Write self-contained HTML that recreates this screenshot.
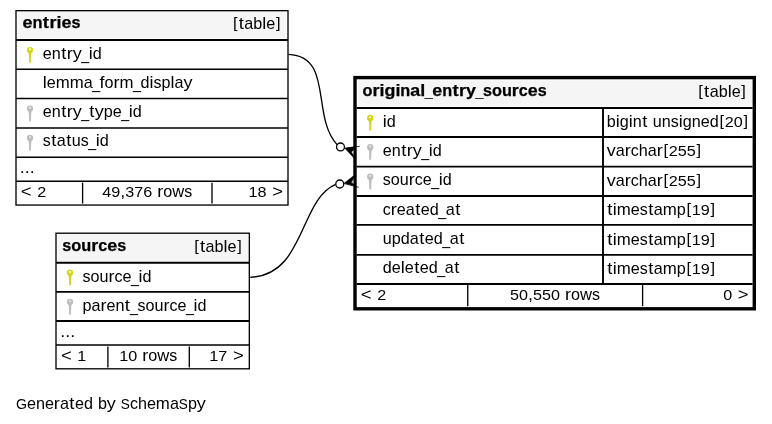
<!DOCTYPE html>
<html><head><meta charset="utf-8"><title>SchemaSpy diagram</title>
<style>
html,body{margin:0;padding:0;background:#fff;}
svg{display:block;will-change:transform;}
text{font-family:"Liberation Sans",sans-serif;font-size:16.2px;fill:#000;}
text.c{font-size:15.4px;}
g.bd text{font-weight:bold;stroke:#000;stroke-width:0.25px;}
text.b{font-size:14.4px;}
</style></head><body>
<svg width="772" height="424" viewBox="0 0 772 424">
<rect width="772" height="424" fill="#fff"/>
<rect x="18.10" y="11.40" width="267.60" height="26.50" fill="#f5f5f5"/>
<rect x="16.00" y="10.67" width="272.00" height="194.38" stroke="#000" stroke-width="1.33" fill="none"/>
<path d="M16.00 40.00L288.00 40.00" stroke="#000" stroke-width="2.0" fill="none"/>
<path d="M16.00 69.30L288.00 69.30" stroke="#000" stroke-width="1.5" fill="none"/>
<path d="M16.00 98.50L288.00 98.50" stroke="#000" stroke-width="1.5" fill="none"/>
<path d="M16.00 127.90L288.00 127.90" stroke="#000" stroke-width="1.5" fill="none"/>
<path d="M16.00 157.20L288.00 157.20" stroke="#000" stroke-width="1.5" fill="none"/>
<path d="M16.00 181.15L288.00 181.15" stroke="#000" stroke-width="1.5" fill="none"/>
<path d="M82.60 182.65L82.60 203.55" stroke="#000" stroke-width="1.33" fill="none"/>
<path d="M212.00 182.65L212.00 203.55" stroke="#000" stroke-width="1.33" fill="none"/>
<g fill="#d3d71a"><circle cx="30.00" cy="50.05" r="3.15"/><path d="M28.30 52.05L31.70 52.05L31.20 55.05L31.00 62.65L29.10 62.65L28.90 55.05Z"/></g><rect x="29.15" y="48.45" width="1.7" height="1.7" rx="0.3" fill="#fff"/><g fill="#fff" fill-opacity="0.55"><rect x="30.55" y="57.25" width="0.6" height="0.6"/><rect x="30.55" y="58.95" width="0.6" height="0.6"/><rect x="30.55" y="60.65" width="0.6" height="0.6"/></g>
<g fill="#bdbdbd"><circle cx="30.00" cy="108.60" r="3.15"/><path d="M28.30 110.60L31.70 110.60L31.20 113.60L31.00 121.20L29.10 121.20L28.90 113.60Z"/></g><rect x="29.15" y="107.00" width="1.7" height="1.7" rx="0.3" fill="#eee"/><g fill="#fff" fill-opacity="0.55"><rect x="30.55" y="115.80" width="0.6" height="0.6"/><rect x="30.55" y="117.50" width="0.6" height="0.6"/><rect x="30.55" y="119.20" width="0.6" height="0.6"/></g>
<g fill="#bdbdbd"><circle cx="30.00" cy="137.95" r="3.15"/><path d="M28.30 139.95L31.70 139.95L31.20 142.95L31.00 150.55L29.10 150.55L28.90 142.95Z"/></g><rect x="29.15" y="136.35" width="1.7" height="1.7" rx="0.3" fill="#eee"/><g fill="#fff" fill-opacity="0.55"><rect x="30.55" y="145.15" width="0.6" height="0.6"/><rect x="30.55" y="146.85" width="0.6" height="0.6"/><rect x="30.55" y="148.55" width="0.6" height="0.6"/></g>
<rect x="58.10" y="233.90" width="189.90" height="27.00" fill="#f5f5f5"/>
<rect x="56.00" y="233.20" width="193.33" height="135.60" stroke="#000" stroke-width="1.33" fill="none"/>
<path d="M56.00 262.80L249.33 262.80" stroke="#000" stroke-width="1.9" fill="none"/>
<path d="M56.00 291.85L249.33 291.85" stroke="#000" stroke-width="1.9" fill="none"/>
<path d="M56.00 321.00L249.33 321.00" stroke="#000" stroke-width="1.85" fill="none"/>
<path d="M56.00 345.00L249.33 345.00" stroke="#000" stroke-width="1.6" fill="none"/>
<path d="M107.90 346.50L107.90 367.60" stroke="#000" stroke-width="1.33" fill="none"/>
<path d="M189.30 346.50L189.30 367.60" stroke="#000" stroke-width="1.33" fill="none"/>
<g fill="#d3d71a"><circle cx="70.00" cy="272.73" r="3.15"/><path d="M68.30 274.73L71.70 274.73L71.20 277.73L71.00 285.33L69.10 285.33L68.90 277.73Z"/></g><rect x="69.15" y="271.12" width="1.7" height="1.7" rx="0.3" fill="#fff"/><g fill="#fff" fill-opacity="0.55"><rect x="70.55" y="279.93" width="0.6" height="0.6"/><rect x="70.55" y="281.62" width="0.6" height="0.6"/><rect x="70.55" y="283.33" width="0.6" height="0.6"/></g>
<g fill="#bdbdbd"><circle cx="70.00" cy="301.82" r="3.15"/><path d="M68.30 303.82L71.70 303.82L71.20 306.82L71.00 314.43L69.10 314.43L68.90 306.82Z"/></g><rect x="69.15" y="300.22" width="1.7" height="1.7" rx="0.3" fill="#eee"/><g fill="#fff" fill-opacity="0.55"><rect x="70.55" y="309.02" width="0.6" height="0.6"/><rect x="70.55" y="310.72" width="0.6" height="0.6"/><rect x="70.55" y="312.43" width="0.6" height="0.6"/></g>
<rect x="357.90" y="80.50" width="394.60" height="25.50" fill="#f5f5f5"/>
<path d="M356.60 108.00L752.60 108.00" stroke="#000" stroke-width="2.1" fill="none"/>
<path d="M356.60 137.05L752.60 137.05" stroke="#000" stroke-width="1.9" fill="none"/>
<path d="M356.60 166.60L752.60 166.60" stroke="#000" stroke-width="1.7" fill="none"/>
<path d="M356.60 195.90L752.60 195.90" stroke="#000" stroke-width="2.05" fill="none"/>
<path d="M356.60 224.90L752.60 224.90" stroke="#000" stroke-width="1.85" fill="none"/>
<path d="M356.60 254.80L752.60 254.80" stroke="#000" stroke-width="1.85" fill="none"/>
<path d="M356.60 283.90L752.60 283.90" stroke="#000" stroke-width="2.05" fill="none"/>
<path d="M603.00 108.00L603.00 283.90" stroke="#000" stroke-width="1.9" fill="none"/>
<path d="M467.75 285.10L467.75 306.20" stroke="#000" stroke-width="1.33" fill="none"/>
<path d="M642.60 285.10L642.60 306.20" stroke="#000" stroke-width="1.33" fill="none"/>
<rect x="355.00" y="77.60" width="399.30" height="231.20" stroke="#000" stroke-width="3.4" fill="none"/>
<g fill="#d3d71a"><circle cx="370.20" cy="117.93" r="3.15"/><path d="M368.50 119.93L371.90 119.93L371.40 122.93L371.20 130.53L369.30 130.53L369.10 122.93Z"/></g><rect x="369.35" y="116.33" width="1.7" height="1.7" rx="0.3" fill="#fff"/><g fill="#fff" fill-opacity="0.55"><rect x="370.75" y="125.13" width="0.6" height="0.6"/><rect x="370.75" y="126.83" width="0.6" height="0.6"/><rect x="370.75" y="128.53" width="0.6" height="0.6"/></g>
<g fill="#bdbdbd"><circle cx="370.20" cy="147.22" r="3.15"/><path d="M368.50 149.22L371.90 149.22L371.40 152.22L371.20 159.82L369.30 159.82L369.10 152.22Z"/></g><rect x="369.35" y="145.62" width="1.7" height="1.7" rx="0.3" fill="#eee"/><g fill="#fff" fill-opacity="0.55"><rect x="370.75" y="154.42" width="0.6" height="0.6"/><rect x="370.75" y="156.12" width="0.6" height="0.6"/><rect x="370.75" y="157.82" width="0.6" height="0.6"/></g>
<g fill="#bdbdbd"><circle cx="370.20" cy="176.65" r="3.15"/><path d="M368.50 178.65L371.90 178.65L371.40 181.65L371.20 189.25L369.30 189.25L369.10 181.65Z"/></g><rect x="369.35" y="175.05" width="1.7" height="1.7" rx="0.3" fill="#eee"/><g fill="#fff" fill-opacity="0.55"><rect x="370.75" y="183.85" width="0.6" height="0.6"/><rect x="370.75" y="185.55" width="0.6" height="0.6"/><rect x="370.75" y="187.25" width="0.6" height="0.6"/></g>
<path d="M288.6 54.3C333.76 56.35 310.76 116.35 337.25 144.9" stroke="#000" stroke-width="1.33" fill="none"/>
<path d="M250.2 277.3C305.27 275.28 299.12 199.9 335.6 184.4" stroke="#000" stroke-width="1.33" fill="none"/>
<circle cx="340.5" cy="146.95" r="3.97" fill="#fff" stroke="#000" stroke-width="1.33"/>
<circle cx="339.76" cy="184.0" r="4.0" fill="#fff" stroke="#000" stroke-width="1.33"/>
<path d="M344.9 148.3L353.6 147.0L353.6 157.7Z" fill="#000" stroke="#000" stroke-width="0.5" stroke-linejoin="round"/>
<path d="M351.5 151.9L353.5 150.3L353.5 155.0Z" fill="#ddd"/>
<path d="M345.5 148.1L359.8 146.3" stroke="#000" stroke-width="0.8" fill="none"/>
<path d="M344.1 183.2L353.8 175.6L353.8 185.6Z" fill="#000" stroke="#000" stroke-width="0.5" stroke-linejoin="round"/>
<path d="M351.2 182.2L353.6 179.0L353.6 184.0Z" fill="#bbb"/>
<path d="M344.6 183.6L358.7 187.3" stroke="#000" stroke-width="0.8" fill="none"/>
<g class="bd"><text x="22.47" y="27.90" textLength="10.00" lengthAdjust="spacingAndGlyphs">e</text><text x="32.47" y="27.90" textLength="10.00" lengthAdjust="spacingAndGlyphs">n</text><text x="42.89" y="27.90" textLength="6.15" lengthAdjust="spacingAndGlyphs">t</text><text x="49.47" y="27.90" textLength="7.00" lengthAdjust="spacingAndGlyphs">r</text><text x="56.47" y="27.90" textLength="5.00" lengthAdjust="spacingAndGlyphs">i</text><text x="61.47" y="27.90" textLength="10.00" lengthAdjust="spacingAndGlyphs">e</text><text x="71.47" y="27.90" textLength="9.00" lengthAdjust="spacingAndGlyphs">s</text></g>
<g><text class="b" x="233.08" y="28.15" textLength="4.56" lengthAdjust="spacingAndGlyphs">[</text><text x="238.79" y="29.00" textLength="5.13" lengthAdjust="spacingAndGlyphs">t</text><text x="244.36" y="29.00" textLength="9.00" lengthAdjust="spacingAndGlyphs">a</text><text x="253.36" y="29.00" textLength="9.00" lengthAdjust="spacingAndGlyphs">b</text><text x="262.36" y="29.00" textLength="4.00" lengthAdjust="spacingAndGlyphs">l</text><text x="266.36" y="29.00" textLength="9.00" lengthAdjust="spacingAndGlyphs">e</text><text class="b" x="276.08" y="28.15" textLength="4.56" lengthAdjust="spacingAndGlyphs">]</text></g>
<g><text x="42.74" y="58.55" textLength="9.00" lengthAdjust="spacingAndGlyphs">e</text><text x="51.74" y="58.55" textLength="9.00" lengthAdjust="spacingAndGlyphs">n</text><text x="61.17" y="58.55" textLength="5.13" lengthAdjust="spacingAndGlyphs">t</text><text x="66.74" y="58.55" textLength="6.00" lengthAdjust="spacingAndGlyphs">r</text><text x="72.74" y="58.55" textLength="9.00" lengthAdjust="spacingAndGlyphs">y</text><text x="81.28" y="59.55" textLength="7.93" lengthAdjust="spacingAndGlyphs">_</text><text x="88.74" y="58.55" textLength="4.00" lengthAdjust="spacingAndGlyphs">i</text><text x="92.74" y="58.55" textLength="9.00" lengthAdjust="spacingAndGlyphs">d</text></g>
<g><text x="42.74" y="87.80" textLength="3.99" lengthAdjust="spacingAndGlyphs">l</text><text x="46.73" y="87.80" textLength="8.98" lengthAdjust="spacingAndGlyphs">e</text><text x="55.71" y="87.80" textLength="13.97" lengthAdjust="spacingAndGlyphs">m</text><text x="69.69" y="87.80" textLength="13.97" lengthAdjust="spacingAndGlyphs">m</text><text x="83.66" y="87.80" textLength="8.98" lengthAdjust="spacingAndGlyphs">a</text><text x="92.17" y="88.80" textLength="7.93" lengthAdjust="spacingAndGlyphs">_</text><text x="99.62" y="87.80" textLength="4.99" lengthAdjust="spacingAndGlyphs">f</text><text x="104.61" y="87.80" textLength="8.98" lengthAdjust="spacingAndGlyphs">o</text><text x="113.60" y="87.80" textLength="5.99" lengthAdjust="spacingAndGlyphs">r</text><text x="119.58" y="87.80" textLength="13.97" lengthAdjust="spacingAndGlyphs">m</text><text x="133.08" y="88.80" textLength="7.93" lengthAdjust="spacingAndGlyphs">_</text><text x="140.54" y="87.80" textLength="8.98" lengthAdjust="spacingAndGlyphs">d</text><text x="149.52" y="87.80" textLength="3.99" lengthAdjust="spacingAndGlyphs">i</text><text x="153.52" y="87.80" textLength="7.98" lengthAdjust="spacingAndGlyphs">s</text><text x="161.50" y="87.80" textLength="8.98" lengthAdjust="spacingAndGlyphs">p</text><text x="170.48" y="87.80" textLength="3.99" lengthAdjust="spacingAndGlyphs">l</text><text x="174.47" y="87.80" textLength="8.98" lengthAdjust="spacingAndGlyphs">a</text><text x="183.46" y="87.80" textLength="8.98" lengthAdjust="spacingAndGlyphs">y</text></g>
<g><text x="42.74" y="117.10" textLength="9.00" lengthAdjust="spacingAndGlyphs">e</text><text x="51.74" y="117.10" textLength="9.00" lengthAdjust="spacingAndGlyphs">n</text><text x="61.17" y="117.10" textLength="5.13" lengthAdjust="spacingAndGlyphs">t</text><text x="66.74" y="117.10" textLength="6.00" lengthAdjust="spacingAndGlyphs">r</text><text x="72.74" y="117.10" textLength="9.00" lengthAdjust="spacingAndGlyphs">y</text><text x="81.28" y="118.10" textLength="7.93" lengthAdjust="spacingAndGlyphs">_</text><text x="89.17" y="117.10" textLength="5.13" lengthAdjust="spacingAndGlyphs">t</text><text x="94.74" y="117.10" textLength="9.00" lengthAdjust="spacingAndGlyphs">y</text><text x="103.74" y="117.10" textLength="9.00" lengthAdjust="spacingAndGlyphs">p</text><text x="112.74" y="117.10" textLength="9.00" lengthAdjust="spacingAndGlyphs">e</text><text x="121.28" y="118.10" textLength="7.93" lengthAdjust="spacingAndGlyphs">_</text><text x="128.74" y="117.10" textLength="4.00" lengthAdjust="spacingAndGlyphs">i</text><text x="132.74" y="117.10" textLength="9.00" lengthAdjust="spacingAndGlyphs">d</text></g>
<g><text x="42.74" y="146.45" textLength="8.00" lengthAdjust="spacingAndGlyphs">s</text><text x="51.17" y="146.45" textLength="5.13" lengthAdjust="spacingAndGlyphs">t</text><text x="56.74" y="146.45" textLength="9.00" lengthAdjust="spacingAndGlyphs">a</text><text x="66.17" y="146.45" textLength="5.13" lengthAdjust="spacingAndGlyphs">t</text><text x="71.74" y="146.45" textLength="9.00" lengthAdjust="spacingAndGlyphs">u</text><text x="80.74" y="146.45" textLength="8.00" lengthAdjust="spacingAndGlyphs">s</text><text x="88.28" y="147.45" textLength="7.93" lengthAdjust="spacingAndGlyphs">_</text><text x="95.74" y="146.45" textLength="4.00" lengthAdjust="spacingAndGlyphs">i</text><text x="99.74" y="146.45" textLength="9.00" lengthAdjust="spacingAndGlyphs">d</text></g>
<g><text x="19.80" y="172.60" textLength="5.00" lengthAdjust="spacingAndGlyphs">.</text><text x="24.80" y="172.60" textLength="5.00" lengthAdjust="spacingAndGlyphs">.</text><text x="29.80" y="172.60" textLength="5.00" lengthAdjust="spacingAndGlyphs">.</text></g>
<g><text x="20.86" y="197.20" textLength="10.79" lengthAdjust="spacingAndGlyphs">&lt;</text><text class="c" x="37.25" y="197.20" textLength="9.00" lengthAdjust="spacingAndGlyphs">2</text></g>
<g><text class="c" x="102.30" y="197.20" textLength="9.00" lengthAdjust="spacingAndGlyphs">4</text><text class="c" x="111.30" y="197.20" textLength="9.00" lengthAdjust="spacingAndGlyphs">9</text><text x="120.30" y="197.20" textLength="5.00" lengthAdjust="spacingAndGlyphs">,</text><text class="c" x="125.30" y="197.20" textLength="9.00" lengthAdjust="spacingAndGlyphs">3</text><text class="c" x="134.30" y="197.20" textLength="9.00" lengthAdjust="spacingAndGlyphs">7</text><text class="c" x="143.30" y="197.20" textLength="9.00" lengthAdjust="spacingAndGlyphs">6</text><text x="157.30" y="197.20" textLength="6.00" lengthAdjust="spacingAndGlyphs">r</text><text x="163.30" y="197.20" textLength="9.00" lengthAdjust="spacingAndGlyphs">o</text><text x="172.30" y="197.20" textLength="12.00" lengthAdjust="spacingAndGlyphs">w</text><text x="184.30" y="197.20" textLength="8.00" lengthAdjust="spacingAndGlyphs">s</text></g>
<g><text class="c" x="248.55" y="197.20" textLength="9.00" lengthAdjust="spacingAndGlyphs">1</text><text class="c" x="257.55" y="197.20" textLength="9.00" lengthAdjust="spacingAndGlyphs">8</text><text x="272.16" y="197.20" textLength="10.79" lengthAdjust="spacingAndGlyphs">&gt;</text></g>
<g class="bd"><text x="62.24" y="250.80" textLength="9.00" lengthAdjust="spacingAndGlyphs">s</text><text x="71.24" y="250.80" textLength="10.00" lengthAdjust="spacingAndGlyphs">o</text><text x="81.24" y="250.80" textLength="10.00" lengthAdjust="spacingAndGlyphs">u</text><text x="91.24" y="250.80" textLength="7.00" lengthAdjust="spacingAndGlyphs">r</text><text x="98.24" y="250.80" textLength="9.00" lengthAdjust="spacingAndGlyphs">c</text><text x="107.24" y="250.80" textLength="10.00" lengthAdjust="spacingAndGlyphs">e</text><text x="117.24" y="250.80" textLength="9.00" lengthAdjust="spacingAndGlyphs">s</text></g>
<g><text class="b" x="194.23" y="250.85" textLength="4.56" lengthAdjust="spacingAndGlyphs">[</text><text x="199.94" y="251.70" textLength="5.13" lengthAdjust="spacingAndGlyphs">t</text><text x="205.51" y="251.70" textLength="9.00" lengthAdjust="spacingAndGlyphs">a</text><text x="214.51" y="251.70" textLength="9.00" lengthAdjust="spacingAndGlyphs">b</text><text x="223.51" y="251.70" textLength="4.00" lengthAdjust="spacingAndGlyphs">l</text><text x="227.51" y="251.70" textLength="9.00" lengthAdjust="spacingAndGlyphs">e</text><text class="b" x="237.23" y="250.85" textLength="4.56" lengthAdjust="spacingAndGlyphs">]</text></g>
<g><text x="82.40" y="281.60" textLength="8.00" lengthAdjust="spacingAndGlyphs">s</text><text x="90.40" y="281.60" textLength="9.00" lengthAdjust="spacingAndGlyphs">o</text><text x="99.40" y="281.60" textLength="9.00" lengthAdjust="spacingAndGlyphs">u</text><text x="108.40" y="281.60" textLength="6.00" lengthAdjust="spacingAndGlyphs">r</text><text x="114.40" y="281.60" textLength="8.00" lengthAdjust="spacingAndGlyphs">c</text><text x="122.40" y="281.60" textLength="9.00" lengthAdjust="spacingAndGlyphs">e</text><text x="130.94" y="282.60" textLength="7.93" lengthAdjust="spacingAndGlyphs">_</text><text x="138.40" y="281.60" textLength="4.00" lengthAdjust="spacingAndGlyphs">i</text><text x="142.40" y="281.60" textLength="9.00" lengthAdjust="spacingAndGlyphs">d</text></g>
<g><text x="82.40" y="310.97" textLength="9.00" lengthAdjust="spacingAndGlyphs">p</text><text x="91.40" y="310.97" textLength="9.00" lengthAdjust="spacingAndGlyphs">a</text><text x="100.40" y="310.97" textLength="6.00" lengthAdjust="spacingAndGlyphs">r</text><text x="106.40" y="310.97" textLength="9.00" lengthAdjust="spacingAndGlyphs">e</text><text x="115.40" y="310.97" textLength="9.00" lengthAdjust="spacingAndGlyphs">n</text><text x="124.83" y="310.97" textLength="5.13" lengthAdjust="spacingAndGlyphs">t</text><text x="129.94" y="311.97" textLength="7.93" lengthAdjust="spacingAndGlyphs">_</text><text x="137.40" y="310.97" textLength="8.00" lengthAdjust="spacingAndGlyphs">s</text><text x="145.40" y="310.97" textLength="9.00" lengthAdjust="spacingAndGlyphs">o</text><text x="154.40" y="310.97" textLength="9.00" lengthAdjust="spacingAndGlyphs">u</text><text x="163.40" y="310.97" textLength="6.00" lengthAdjust="spacingAndGlyphs">r</text><text x="169.40" y="310.97" textLength="8.00" lengthAdjust="spacingAndGlyphs">c</text><text x="177.40" y="310.97" textLength="9.00" lengthAdjust="spacingAndGlyphs">e</text><text x="185.94" y="311.97" textLength="7.93" lengthAdjust="spacingAndGlyphs">_</text><text x="193.40" y="310.97" textLength="4.00" lengthAdjust="spacingAndGlyphs">i</text><text x="197.40" y="310.97" textLength="9.00" lengthAdjust="spacingAndGlyphs">d</text></g>
<g><text x="60.30" y="337.00" textLength="5.00" lengthAdjust="spacingAndGlyphs">.</text><text x="65.30" y="337.00" textLength="5.00" lengthAdjust="spacingAndGlyphs">.</text><text x="70.30" y="337.00" textLength="5.00" lengthAdjust="spacingAndGlyphs">.</text></g>
<g><text x="60.91" y="361.40" textLength="10.79" lengthAdjust="spacingAndGlyphs">&lt;</text><text class="c" x="77.30" y="361.40" textLength="9.00" lengthAdjust="spacingAndGlyphs">1</text></g>
<g><text class="c" x="119.15" y="361.40" textLength="9.00" lengthAdjust="spacingAndGlyphs">1</text><text class="c" x="128.15" y="361.40" textLength="9.00" lengthAdjust="spacingAndGlyphs">0</text><text x="142.15" y="361.40" textLength="6.00" lengthAdjust="spacingAndGlyphs">r</text><text x="148.15" y="361.40" textLength="9.00" lengthAdjust="spacingAndGlyphs">o</text><text x="157.15" y="361.40" textLength="12.00" lengthAdjust="spacingAndGlyphs">w</text><text x="169.15" y="361.40" textLength="8.00" lengthAdjust="spacingAndGlyphs">s</text></g>
<g><text class="c" x="209.35" y="361.40" textLength="9.00" lengthAdjust="spacingAndGlyphs">1</text><text class="c" x="218.35" y="361.40" textLength="9.00" lengthAdjust="spacingAndGlyphs">7</text><text x="232.96" y="361.40" textLength="10.79" lengthAdjust="spacingAndGlyphs">&gt;</text></g>
<g class="bd"><text x="362.57" y="95.60" textLength="9.95" lengthAdjust="spacingAndGlyphs">o</text><text x="372.52" y="95.60" textLength="6.97" lengthAdjust="spacingAndGlyphs">r</text><text x="379.49" y="95.60" textLength="4.98" lengthAdjust="spacingAndGlyphs">i</text><text x="384.47" y="95.60" textLength="10.95" lengthAdjust="spacingAndGlyphs">g</text><text x="395.41" y="95.60" textLength="4.98" lengthAdjust="spacingAndGlyphs">i</text><text x="400.39" y="95.60" textLength="9.95" lengthAdjust="spacingAndGlyphs">n</text><text x="410.34" y="95.60" textLength="9.95" lengthAdjust="spacingAndGlyphs">a</text><text x="420.30" y="95.60" textLength="4.98" lengthAdjust="spacingAndGlyphs">l</text><text x="424.79" y="96.60" textLength="7.93" lengthAdjust="spacingAndGlyphs">_</text><text x="432.24" y="95.60" textLength="9.95" lengthAdjust="spacingAndGlyphs">e</text><text x="442.19" y="95.60" textLength="9.95" lengthAdjust="spacingAndGlyphs">n</text><text x="452.55" y="95.60" textLength="6.15" lengthAdjust="spacingAndGlyphs">t</text><text x="459.11" y="95.60" textLength="6.97" lengthAdjust="spacingAndGlyphs">r</text><text x="466.08" y="95.60" textLength="9.95" lengthAdjust="spacingAndGlyphs">y</text><text x="475.55" y="96.60" textLength="7.93" lengthAdjust="spacingAndGlyphs">_</text><text x="483.00" y="95.60" textLength="8.96" lengthAdjust="spacingAndGlyphs">s</text><text x="491.95" y="95.60" textLength="9.95" lengthAdjust="spacingAndGlyphs">o</text><text x="501.91" y="95.60" textLength="9.95" lengthAdjust="spacingAndGlyphs">u</text><text x="511.86" y="95.60" textLength="6.97" lengthAdjust="spacingAndGlyphs">r</text><text x="518.83" y="95.60" textLength="8.96" lengthAdjust="spacingAndGlyphs">c</text><text x="527.78" y="95.60" textLength="9.95" lengthAdjust="spacingAndGlyphs">e</text><text x="537.74" y="95.60" textLength="8.96" lengthAdjust="spacingAndGlyphs">s</text></g>
<g><text class="b" x="698.38" y="96.45" textLength="4.56" lengthAdjust="spacingAndGlyphs">[</text><text x="704.09" y="97.30" textLength="5.13" lengthAdjust="spacingAndGlyphs">t</text><text x="709.66" y="97.30" textLength="9.00" lengthAdjust="spacingAndGlyphs">a</text><text x="718.66" y="97.30" textLength="9.00" lengthAdjust="spacingAndGlyphs">b</text><text x="727.66" y="97.30" textLength="4.00" lengthAdjust="spacingAndGlyphs">l</text><text x="731.66" y="97.30" textLength="9.00" lengthAdjust="spacingAndGlyphs">e</text><text class="b" x="741.38" y="96.45" textLength="4.56" lengthAdjust="spacingAndGlyphs">]</text></g>
<g><text x="382.80" y="126.70" textLength="4.00" lengthAdjust="spacingAndGlyphs">i</text><text x="386.80" y="126.70" textLength="9.00" lengthAdjust="spacingAndGlyphs">d</text></g>
<g><text x="606.80" y="127.20" textLength="9.00" lengthAdjust="spacingAndGlyphs">b</text><text x="615.80" y="127.20" textLength="4.00" lengthAdjust="spacingAndGlyphs">i</text><text x="619.80" y="127.20" textLength="9.00" lengthAdjust="spacingAndGlyphs">g</text><text x="628.80" y="127.20" textLength="4.00" lengthAdjust="spacingAndGlyphs">i</text><text x="632.80" y="127.20" textLength="9.00" lengthAdjust="spacingAndGlyphs">n</text><text x="642.23" y="127.20" textLength="5.13" lengthAdjust="spacingAndGlyphs">t</text><text x="652.80" y="127.20" textLength="9.00" lengthAdjust="spacingAndGlyphs">u</text><text x="661.80" y="127.20" textLength="9.00" lengthAdjust="spacingAndGlyphs">n</text><text x="670.80" y="127.20" textLength="8.00" lengthAdjust="spacingAndGlyphs">s</text><text x="678.80" y="127.20" textLength="4.00" lengthAdjust="spacingAndGlyphs">i</text><text x="682.80" y="127.20" textLength="9.00" lengthAdjust="spacingAndGlyphs">g</text><text x="691.80" y="127.20" textLength="9.00" lengthAdjust="spacingAndGlyphs">n</text><text x="700.80" y="127.20" textLength="9.00" lengthAdjust="spacingAndGlyphs">e</text><text x="709.80" y="127.20" textLength="9.00" lengthAdjust="spacingAndGlyphs">d</text><text class="b" x="719.52" y="126.35" textLength="4.56" lengthAdjust="spacingAndGlyphs">[</text><text class="c" x="724.80" y="127.20" textLength="9.00" lengthAdjust="spacingAndGlyphs">2</text><text class="c" x="733.80" y="127.20" textLength="9.00" lengthAdjust="spacingAndGlyphs">0</text><text class="b" x="743.52" y="126.35" textLength="4.56" lengthAdjust="spacingAndGlyphs">]</text></g>
<g><text x="382.80" y="155.75" textLength="9.00" lengthAdjust="spacingAndGlyphs">e</text><text x="391.80" y="155.75" textLength="9.00" lengthAdjust="spacingAndGlyphs">n</text><text x="401.23" y="155.75" textLength="5.13" lengthAdjust="spacingAndGlyphs">t</text><text x="406.80" y="155.75" textLength="6.00" lengthAdjust="spacingAndGlyphs">r</text><text x="412.80" y="155.75" textLength="9.00" lengthAdjust="spacingAndGlyphs">y</text><text x="421.34" y="156.75" textLength="7.93" lengthAdjust="spacingAndGlyphs">_</text><text x="428.80" y="155.75" textLength="4.00" lengthAdjust="spacingAndGlyphs">i</text><text x="432.80" y="155.75" textLength="9.00" lengthAdjust="spacingAndGlyphs">d</text></g>
<g><text x="606.80" y="156.25" textLength="9.00" lengthAdjust="spacingAndGlyphs">v</text><text x="615.80" y="156.25" textLength="9.00" lengthAdjust="spacingAndGlyphs">a</text><text x="624.80" y="156.25" textLength="6.00" lengthAdjust="spacingAndGlyphs">r</text><text x="630.80" y="156.25" textLength="8.00" lengthAdjust="spacingAndGlyphs">c</text><text x="638.80" y="156.25" textLength="9.00" lengthAdjust="spacingAndGlyphs">h</text><text x="647.80" y="156.25" textLength="9.00" lengthAdjust="spacingAndGlyphs">a</text><text x="656.80" y="156.25" textLength="6.00" lengthAdjust="spacingAndGlyphs">r</text><text class="b" x="663.52" y="155.40" textLength="4.56" lengthAdjust="spacingAndGlyphs">[</text><text class="c" x="668.80" y="156.25" textLength="9.00" lengthAdjust="spacingAndGlyphs">2</text><text class="c" x="677.80" y="156.25" textLength="9.00" lengthAdjust="spacingAndGlyphs">5</text><text class="c" x="686.80" y="156.25" textLength="9.00" lengthAdjust="spacingAndGlyphs">5</text><text class="b" x="696.52" y="155.40" textLength="4.56" lengthAdjust="spacingAndGlyphs">]</text></g>
<g><text x="382.80" y="185.15" textLength="8.00" lengthAdjust="spacingAndGlyphs">s</text><text x="390.80" y="185.15" textLength="9.00" lengthAdjust="spacingAndGlyphs">o</text><text x="399.80" y="185.15" textLength="9.00" lengthAdjust="spacingAndGlyphs">u</text><text x="408.80" y="185.15" textLength="6.00" lengthAdjust="spacingAndGlyphs">r</text><text x="414.80" y="185.15" textLength="8.00" lengthAdjust="spacingAndGlyphs">c</text><text x="422.80" y="185.15" textLength="9.00" lengthAdjust="spacingAndGlyphs">e</text><text x="431.34" y="186.15" textLength="7.93" lengthAdjust="spacingAndGlyphs">_</text><text x="438.80" y="185.15" textLength="4.00" lengthAdjust="spacingAndGlyphs">i</text><text x="442.80" y="185.15" textLength="9.00" lengthAdjust="spacingAndGlyphs">d</text></g>
<g><text x="606.80" y="185.65" textLength="9.00" lengthAdjust="spacingAndGlyphs">v</text><text x="615.80" y="185.65" textLength="9.00" lengthAdjust="spacingAndGlyphs">a</text><text x="624.80" y="185.65" textLength="6.00" lengthAdjust="spacingAndGlyphs">r</text><text x="630.80" y="185.65" textLength="8.00" lengthAdjust="spacingAndGlyphs">c</text><text x="638.80" y="185.65" textLength="9.00" lengthAdjust="spacingAndGlyphs">h</text><text x="647.80" y="185.65" textLength="9.00" lengthAdjust="spacingAndGlyphs">a</text><text x="656.80" y="185.65" textLength="6.00" lengthAdjust="spacingAndGlyphs">r</text><text class="b" x="663.52" y="184.80" textLength="4.56" lengthAdjust="spacingAndGlyphs">[</text><text class="c" x="668.80" y="185.65" textLength="9.00" lengthAdjust="spacingAndGlyphs">2</text><text class="c" x="677.80" y="185.65" textLength="9.00" lengthAdjust="spacingAndGlyphs">5</text><text class="c" x="686.80" y="185.65" textLength="9.00" lengthAdjust="spacingAndGlyphs">5</text><text class="b" x="696.52" y="184.80" textLength="4.56" lengthAdjust="spacingAndGlyphs">]</text></g>
<g><text x="382.80" y="214.60" textLength="8.00" lengthAdjust="spacingAndGlyphs">c</text><text x="390.80" y="214.60" textLength="6.00" lengthAdjust="spacingAndGlyphs">r</text><text x="396.80" y="214.60" textLength="9.00" lengthAdjust="spacingAndGlyphs">e</text><text x="405.80" y="214.60" textLength="9.00" lengthAdjust="spacingAndGlyphs">a</text><text x="415.23" y="214.60" textLength="5.13" lengthAdjust="spacingAndGlyphs">t</text><text x="420.80" y="214.60" textLength="9.00" lengthAdjust="spacingAndGlyphs">e</text><text x="429.80" y="214.60" textLength="9.00" lengthAdjust="spacingAndGlyphs">d</text><text x="438.34" y="215.60" textLength="7.93" lengthAdjust="spacingAndGlyphs">_</text><text x="445.80" y="214.60" textLength="9.00" lengthAdjust="spacingAndGlyphs">a</text><text x="455.23" y="214.60" textLength="5.13" lengthAdjust="spacingAndGlyphs">t</text></g>
<g><text x="607.23" y="215.10" textLength="5.13" lengthAdjust="spacingAndGlyphs">t</text><text x="612.80" y="215.10" textLength="4.00" lengthAdjust="spacingAndGlyphs">i</text><text x="616.80" y="215.10" textLength="14.00" lengthAdjust="spacingAndGlyphs">m</text><text x="630.80" y="215.10" textLength="9.00" lengthAdjust="spacingAndGlyphs">e</text><text x="639.80" y="215.10" textLength="8.00" lengthAdjust="spacingAndGlyphs">s</text><text x="648.23" y="215.10" textLength="5.13" lengthAdjust="spacingAndGlyphs">t</text><text x="653.80" y="215.10" textLength="9.00" lengthAdjust="spacingAndGlyphs">a</text><text x="662.80" y="215.10" textLength="14.00" lengthAdjust="spacingAndGlyphs">m</text><text x="676.80" y="215.10" textLength="9.00" lengthAdjust="spacingAndGlyphs">p</text><text class="b" x="686.52" y="214.25" textLength="4.56" lengthAdjust="spacingAndGlyphs">[</text><text class="c" x="691.80" y="215.10" textLength="9.00" lengthAdjust="spacingAndGlyphs">1</text><text class="c" x="700.80" y="215.10" textLength="9.00" lengthAdjust="spacingAndGlyphs">9</text><text class="b" x="710.52" y="214.25" textLength="4.56" lengthAdjust="spacingAndGlyphs">]</text></g>
<g><text x="382.80" y="244.10" textLength="9.00" lengthAdjust="spacingAndGlyphs">u</text><text x="391.80" y="244.10" textLength="9.00" lengthAdjust="spacingAndGlyphs">p</text><text x="400.80" y="244.10" textLength="9.00" lengthAdjust="spacingAndGlyphs">d</text><text x="409.80" y="244.10" textLength="9.00" lengthAdjust="spacingAndGlyphs">a</text><text x="419.23" y="244.10" textLength="5.13" lengthAdjust="spacingAndGlyphs">t</text><text x="424.80" y="244.10" textLength="9.00" lengthAdjust="spacingAndGlyphs">e</text><text x="433.80" y="244.10" textLength="9.00" lengthAdjust="spacingAndGlyphs">d</text><text x="442.34" y="245.10" textLength="7.93" lengthAdjust="spacingAndGlyphs">_</text><text x="449.80" y="244.10" textLength="9.00" lengthAdjust="spacingAndGlyphs">a</text><text x="459.23" y="244.10" textLength="5.13" lengthAdjust="spacingAndGlyphs">t</text></g>
<g><text x="607.23" y="244.60" textLength="5.13" lengthAdjust="spacingAndGlyphs">t</text><text x="612.80" y="244.60" textLength="4.00" lengthAdjust="spacingAndGlyphs">i</text><text x="616.80" y="244.60" textLength="14.00" lengthAdjust="spacingAndGlyphs">m</text><text x="630.80" y="244.60" textLength="9.00" lengthAdjust="spacingAndGlyphs">e</text><text x="639.80" y="244.60" textLength="8.00" lengthAdjust="spacingAndGlyphs">s</text><text x="648.23" y="244.60" textLength="5.13" lengthAdjust="spacingAndGlyphs">t</text><text x="653.80" y="244.60" textLength="9.00" lengthAdjust="spacingAndGlyphs">a</text><text x="662.80" y="244.60" textLength="14.00" lengthAdjust="spacingAndGlyphs">m</text><text x="676.80" y="244.60" textLength="9.00" lengthAdjust="spacingAndGlyphs">p</text><text class="b" x="686.52" y="243.75" textLength="4.56" lengthAdjust="spacingAndGlyphs">[</text><text class="c" x="691.80" y="244.60" textLength="9.00" lengthAdjust="spacingAndGlyphs">1</text><text class="c" x="700.80" y="244.60" textLength="9.00" lengthAdjust="spacingAndGlyphs">9</text><text class="b" x="710.52" y="243.75" textLength="4.56" lengthAdjust="spacingAndGlyphs">]</text></g>
<g><text x="382.80" y="273.40" textLength="9.00" lengthAdjust="spacingAndGlyphs">d</text><text x="391.80" y="273.40" textLength="9.00" lengthAdjust="spacingAndGlyphs">e</text><text x="400.80" y="273.40" textLength="4.00" lengthAdjust="spacingAndGlyphs">l</text><text x="404.80" y="273.40" textLength="9.00" lengthAdjust="spacingAndGlyphs">e</text><text x="414.23" y="273.40" textLength="5.13" lengthAdjust="spacingAndGlyphs">t</text><text x="419.80" y="273.40" textLength="9.00" lengthAdjust="spacingAndGlyphs">e</text><text x="428.80" y="273.40" textLength="9.00" lengthAdjust="spacingAndGlyphs">d</text><text x="437.34" y="274.40" textLength="7.93" lengthAdjust="spacingAndGlyphs">_</text><text x="444.80" y="273.40" textLength="9.00" lengthAdjust="spacingAndGlyphs">a</text><text x="454.23" y="273.40" textLength="5.13" lengthAdjust="spacingAndGlyphs">t</text></g>
<g><text x="607.23" y="273.90" textLength="5.13" lengthAdjust="spacingAndGlyphs">t</text><text x="612.80" y="273.90" textLength="4.00" lengthAdjust="spacingAndGlyphs">i</text><text x="616.80" y="273.90" textLength="14.00" lengthAdjust="spacingAndGlyphs">m</text><text x="630.80" y="273.90" textLength="9.00" lengthAdjust="spacingAndGlyphs">e</text><text x="639.80" y="273.90" textLength="8.00" lengthAdjust="spacingAndGlyphs">s</text><text x="648.23" y="273.90" textLength="5.13" lengthAdjust="spacingAndGlyphs">t</text><text x="653.80" y="273.90" textLength="9.00" lengthAdjust="spacingAndGlyphs">a</text><text x="662.80" y="273.90" textLength="14.00" lengthAdjust="spacingAndGlyphs">m</text><text x="676.80" y="273.90" textLength="9.00" lengthAdjust="spacingAndGlyphs">p</text><text class="b" x="686.52" y="273.05" textLength="4.56" lengthAdjust="spacingAndGlyphs">[</text><text class="c" x="691.80" y="273.90" textLength="9.00" lengthAdjust="spacingAndGlyphs">1</text><text class="c" x="700.80" y="273.90" textLength="9.00" lengthAdjust="spacingAndGlyphs">9</text><text class="b" x="710.52" y="273.05" textLength="4.56" lengthAdjust="spacingAndGlyphs">]</text></g>
<g><text x="360.85" y="299.80" textLength="10.79" lengthAdjust="spacingAndGlyphs">&lt;</text><text class="c" x="377.25" y="299.80" textLength="9.00" lengthAdjust="spacingAndGlyphs">2</text></g>
<g><text class="c" x="509.99" y="299.60" textLength="9.00" lengthAdjust="spacingAndGlyphs">5</text><text class="c" x="518.99" y="299.60" textLength="9.00" lengthAdjust="spacingAndGlyphs">0</text><text x="527.99" y="299.60" textLength="5.00" lengthAdjust="spacingAndGlyphs">,</text><text class="c" x="532.99" y="299.60" textLength="9.00" lengthAdjust="spacingAndGlyphs">5</text><text class="c" x="541.99" y="299.60" textLength="9.00" lengthAdjust="spacingAndGlyphs">5</text><text class="c" x="550.99" y="299.60" textLength="9.00" lengthAdjust="spacingAndGlyphs">0</text><text x="564.99" y="299.60" textLength="6.00" lengthAdjust="spacingAndGlyphs">r</text><text x="570.99" y="299.60" textLength="9.00" lengthAdjust="spacingAndGlyphs">o</text><text x="579.99" y="299.60" textLength="12.00" lengthAdjust="spacingAndGlyphs">w</text><text x="591.99" y="299.60" textLength="8.00" lengthAdjust="spacingAndGlyphs">s</text></g>
<g><text class="c" x="723.25" y="299.60" textLength="9.00" lengthAdjust="spacingAndGlyphs">0</text><text x="737.86" y="299.60" textLength="10.79" lengthAdjust="spacingAndGlyphs">&gt;</text></g>
<g><text class="c" x="15.88" y="409.40" textLength="11.00" lengthAdjust="spacingAndGlyphs">G</text><text x="26.88" y="409.40" textLength="9.00" lengthAdjust="spacingAndGlyphs">e</text><text x="35.88" y="409.40" textLength="9.00" lengthAdjust="spacingAndGlyphs">n</text><text x="44.88" y="409.40" textLength="9.00" lengthAdjust="spacingAndGlyphs">e</text><text x="53.88" y="409.40" textLength="6.00" lengthAdjust="spacingAndGlyphs">r</text><text x="59.88" y="409.40" textLength="9.00" lengthAdjust="spacingAndGlyphs">a</text><text x="69.31" y="409.40" textLength="5.13" lengthAdjust="spacingAndGlyphs">t</text><text x="74.88" y="409.40" textLength="9.00" lengthAdjust="spacingAndGlyphs">e</text><text x="83.88" y="409.40" textLength="9.00" lengthAdjust="spacingAndGlyphs">d</text><text x="97.88" y="409.40" textLength="9.00" lengthAdjust="spacingAndGlyphs">b</text><text x="106.88" y="409.40" textLength="9.00" lengthAdjust="spacingAndGlyphs">y</text><text class="c" x="120.86" y="409.40" textLength="9.04" lengthAdjust="spacingAndGlyphs">S</text><text x="129.88" y="409.40" textLength="8.00" lengthAdjust="spacingAndGlyphs">c</text><text x="137.88" y="409.40" textLength="9.00" lengthAdjust="spacingAndGlyphs">h</text><text x="146.88" y="409.40" textLength="9.00" lengthAdjust="spacingAndGlyphs">e</text><text x="155.88" y="409.40" textLength="14.00" lengthAdjust="spacingAndGlyphs">m</text><text x="169.88" y="409.40" textLength="9.00" lengthAdjust="spacingAndGlyphs">a</text><text class="c" x="178.86" y="409.40" textLength="9.04" lengthAdjust="spacingAndGlyphs">S</text><text x="187.88" y="409.40" textLength="9.00" lengthAdjust="spacingAndGlyphs">p</text><text x="196.88" y="409.40" textLength="9.00" lengthAdjust="spacingAndGlyphs">y</text></g>
</svg>
</body></html>
